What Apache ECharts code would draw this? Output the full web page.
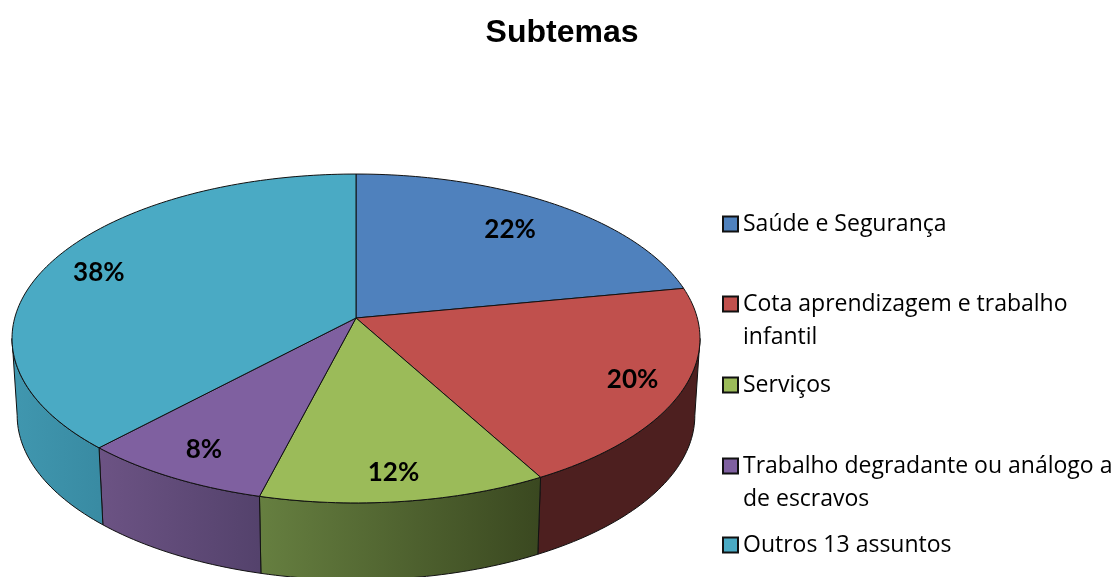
<!DOCTYPE html>
<html>
<head>
<meta charset="utf-8">
<title>Subtemas</title>
<script src="https://cdn.jsdelivr.net/npm/echarts@6/dist/echarts.min.js"></script>
<style>
  html, body { margin: 0; padding: 0; background: #fff; }
  #chart { width: 1118px; height: 577px; }
</style>
</head>
<body>
<div id="chart"></div>
<script>
const titleText = 'Subtemas'
const categories = [
  'Saúde e Segurança',
  'Cota aprendizagem e trabalho\ninfantil',
  'Serviços',
  'Trabalho degradante ou análogo a\nde escravos',
  'Outros 13 assuntos'
]
const shares = [22, 20, 12, 8, 38]

const topColors = ['#4f81bd', '#c0504d', '#9bbb59', '#7f60a0', '#4aaac4']
const wallColors = [
  ['#2f4d71', '#2f4d71'],
  ['#4d1f1f', '#4d1f1f'],
  ['#667f40', '#3a4820'],
  ['#6c5384', '#54426c'],
  ['#4097af', '#398ba3']
]
// where each label sits: along its slice (0-1) and from the apex (fraction of radius)
const labelAlong = [0.5, 0.5, 0.515, 0.5, 0.49]
const labelRadius = [0.76, 0.855, 0.86, 0.84, 0.832]
const legendCenters = [224, 304, 385, 466, 545]

// pie seen in perspective, fitted on the picture
const apexX = 356
const apexY = 318
const radiusX = 341.3
const radiusY = 161.9
const perspective = -0.1246
const wallDepth = 77
const wallShrink = 0.985

// angles of the left and right edges of the disc, the wall is only seen between them
const sideRight = Math.acos(perspective)
const sideLeft = Math.PI * 2 - sideRight

const total = shares.reduce((a, b) => a + b, 0)

const project = (angle, rho) => {
  const u = Math.sin(angle) * rho
  const v = -Math.cos(angle) * rho
  const w = 1 + perspective * v
  return [apexX + radiusX * u / w, apexY + radiusY * v / w]
}

const lowerPoint = (p) => [apexX + (p[0] - apexX) * wallShrink, p[1] + wallDepth]

const sliceAngles = (index) => {
  const before = shares.slice(0, index).reduce((a, b) => a + b, 0)
  return [before / total * Math.PI * 2, (before + shares[index]) / total * Math.PI * 2]
}

const arcPoints = (start, end) => {
  const points = []
  const steps = Math.max(8, Math.ceil((end - start) / 0.02))
  for (let i = 0; i <= steps; i++) {
    points.push(project(start + (end - start) * i / steps, 1))
  }
  return points
}

const renderSlice = (index) => () => {
  const [start, end] = sliceAngles(index)
  const arc = arcPoints(start, end)
  const labelAngle = start + (end - start) * labelAlong[index]
  const labelPoint = project(labelAngle, labelRadius[index])
  const children = []

  const wallStart = Math.max(start, sideRight)
  const wallEnd = Math.min(end, sideLeft)
  if (wallStart < wallEnd) {
    const upper = arcPoints(wallStart, wallEnd)
    const xs = upper.map(p => p[0])
    children.push({
      type: 'polygon',
      z2: 1,
      shape: { points: upper.concat(upper.map(lowerPoint).reverse()) },
      style: {
        fill: new echarts.graphic.LinearGradient(
          Math.min(...xs), 0, Math.max(...xs), 0,
          [
            { offset: 0, color: wallColors[index][0] },
            { offset: 1, color: wallColors[index][1] }
          ],
          true
        ),
        stroke: '#111',
        lineWidth: 1
      }
    })
  }

  children.push({
    type: 'polygon',
    z2: 10,
    shape: { points: [[apexX, apexY]].concat(arc) },
    style: { fill: topColors[index], stroke: '#111', lineWidth: 1 }
  })

  children.push({
    type: 'text',
    z2: 20,
    x: labelPoint[0],
    y: labelPoint[1],
    style: {
      text: shares[index] + '%',
      fill: '#000',
      font: 'bold 26px Lato',
      align: 'center',
      verticalAlign: 'middle'
    }
  })

  return { type: 'group', children }
}

const lineHeight = 33

const chart = echarts.init(document.getElementById('chart'))

chart.setOption({
  animation: false,
  backgroundColor: '#fff',
  title: {
    text: titleText,
    left: 557,
    top: 12,
    textAlign: 'center',
    textStyle: {
      fontFamily: 'Liberation Sans',
      fontSize: 32,
      fontWeight: 'bold',
      color: '#000'
    }
  },
  // one legend per entry: the gaps are uneven, and a blank first line keeps
  // the marker beside line one of a wrapped name
  legend: categories.map((name, i) => {
    const wrapped = name.includes('\n')
    return {
      data: [name],
      orient: 'vertical',
      left: 722,
      top: legendCenters[i] - (wrapped ? lineHeight * 1.5 : lineHeight / 2),
      padding: 0,
      icon: 'rect',
      itemWidth: 15,
      itemHeight: 15,
      selectedMode: false,
      formatter: (label) => (label.includes('\n') ? '\n' + label : label),
      itemStyle: { borderColor: '#111', borderWidth: 2 },
      textStyle: {
        fontFamily: 'Open Sans',
        fontSize: 23,
        color: '#000',
        lineHeight: lineHeight
      }
    }
  }),
  series: categories.map((name, i) => ({
    type: 'custom',
    name: name,
    coordinateSystem: 'none',
    itemStyle: { color: topColors[i] },
    data: [shares[i]],
    renderItem: renderSlice(i)
  }))
})
</script>
</body>
</html>
